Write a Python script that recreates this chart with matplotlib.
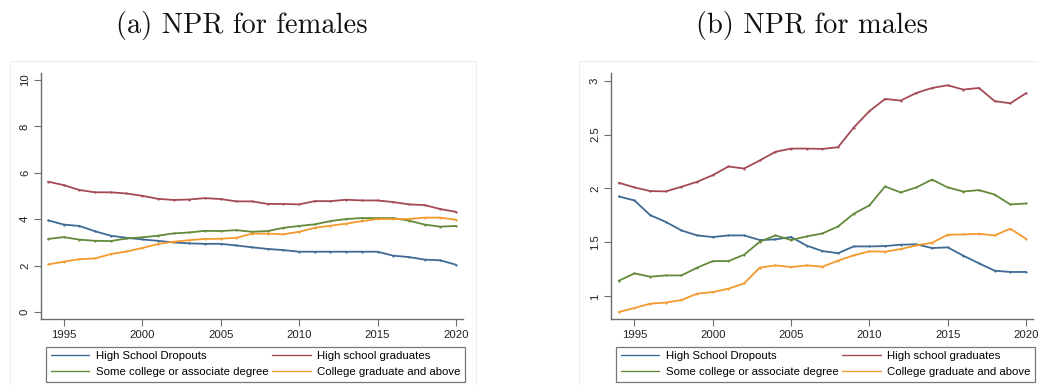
import matplotlib
matplotlib.use("Agg")
import matplotlib.pyplot as plt
from matplotlib.patches import Rectangle

years = list(range(1994, 2021))

# Females
f_dropouts = [3.95, 3.77, 3.71, 3.48, 3.29, 3.20, 3.13, 3.07, 3.00, 2.96, 2.94, 2.94, 2.87, 2.79,
              2.72, 2.67, 2.60, 2.60, 2.60, 2.60, 2.60, 2.60, 2.43, 2.37, 2.26, 2.23, 2.04]
f_hsgrad = [5.62, 5.47, 5.26, 5.16, 5.16, 5.11, 5.01, 4.88, 4.83, 4.85, 4.91, 4.87, 4.77, 4.77,
            4.66, 4.66, 4.64, 4.78, 4.78, 4.84, 4.81, 4.81, 4.74, 4.64, 4.61, 4.44, 4.32]
f_somecol = [3.15, 3.23, 3.12, 3.07, 3.06, 3.17, 3.22, 3.29, 3.39, 3.43, 3.50, 3.49, 3.53, 3.46,
             3.49, 3.63, 3.71, 3.78, 3.92, 4.01, 4.05, 4.05, 4.05, 3.94, 3.77, 3.68, 3.71]
f_college = [2.05, 2.17, 2.28, 2.31, 2.50, 2.61, 2.76, 2.93, 3.03, 3.10, 3.15, 3.16, 3.20, 3.38,
             3.38, 3.35, 3.46, 3.63, 3.72, 3.81, 3.92, 4.01, 4.01, 4.01, 4.07, 4.07, 3.98]

# Males
m_dropouts = [1.926, 1.889, 1.753, 1.690, 1.611, 1.565, 1.550, 1.565, 1.565, 1.522, 1.528, 1.550,
              1.470, 1.420, 1.400, 1.463, 1.463, 1.466, 1.479, 1.482, 1.448, 1.454, 1.377, 1.306,
              1.238, 1.226, 1.226]
m_hsgrad = [2.053, 2.010, 1.976, 1.973, 2.016, 2.062, 2.124, 2.204, 2.185, 2.260, 2.340, 2.370,
            2.370, 2.367, 2.383, 2.565, 2.717, 2.830, 2.815, 2.886, 2.932, 2.957, 2.917, 2.932,
            2.810, 2.790, 2.883]
m_somecol = [1.145, 1.213, 1.182, 1.194, 1.194, 1.266, 1.327, 1.327, 1.386, 1.506, 1.565, 1.522,
             1.556, 1.583, 1.648, 1.766, 1.843, 2.019, 1.963, 2.010, 2.083, 2.010, 1.972, 1.985,
             1.944, 1.852, 1.861]
m_college = [0.855, 0.892, 0.932, 0.942, 0.966, 1.025, 1.040, 1.071, 1.120, 1.266, 1.287, 1.272,
             1.287, 1.275, 1.331, 1.380, 1.417, 1.414, 1.439, 1.472, 1.497, 1.571, 1.574, 1.580,
             1.565, 1.627, 1.534]

series_labels = ["High School Dropouts", "High school graduates",
                 "Some college or associate degree", "College graduate and above"]
series_colors = ["#3f6a94", "#a34a55", "#638a3a", "#f29a2e"]

x_ticks = [1995, 2000, 2005, 2010, 2015, 2020]
f_yticks = [0, 2, 4, 6, 8, 10]
m_yticks = [1, 1.5, 2, 2.5, 3]
m_ytick_labels = ["1", "1.5", "2", "2.5", "3"]

titles = ["(a) NPR for females", "(b) NPR for males"]

fig = plt.figure(figsize=(10.38, 3.85), dpi=100)
W, H = 1038, 385

def fx(px):
    return px / W

def fy(py):
    return 1 - py / H

# faint graph-region frames
for x0, x1 in [(10, 476), (579, 1040)]:
    fig.patches.append(Rectangle((fx(x0), fy(390)), fx(x1) - fx(x0), fy(61) - fy(390),
                                 transform=fig.transFigure, fill=False,
                                 edgecolor="#eeeeee", linewidth=0.8, zorder=0))

ax1 = fig.add_axes([fx(41), fy(319), fx(463) - fx(41), fy(73.3) - fy(319)])
ax2 = fig.add_axes([fx(611), fy(319), fx(1033) - fx(611), fy(73.3) - fy(319)])

panels = [
    (ax1, [f_dropouts, f_hsgrad, f_somecol, f_college], (-0.30, 10.29), f_yticks,
     [str(t) for t in f_yticks], (1993.55, 2020.45)),
    (ax2, [m_dropouts, m_hsgrad, m_somecol, m_college], (0.79, 3.068), m_yticks,
     m_ytick_labels, (1993.5, 2020.45)),
]

for ax, data, ylim, yt, ytl, xlim in panels:
    for vals, lab, col in zip(data, series_labels, series_colors):
        ax.plot(years, vals, color=col, lw=1.3, label=lab, marker="o",
                markersize=1.6, markeredgewidth=0, solid_capstyle="round")
    ax.set_xlim(*xlim)
    ax.set_ylim(*ylim)
    ax.set_xticks(x_ticks)
    ax.set_yticks(yt)
    ax.set_yticklabels(ytl, rotation=90, va="center")
    for s in ["top", "right"]:
        ax.spines[s].set_visible(False)
    for s in ["left", "bottom"]:
        ax.spines[s].set_color("#6e6e6e")
        ax.spines[s].set_linewidth(1.0)
    ax.tick_params(axis="both", length=5, width=0.8, color="#6e6e6e",
                   labelsize=8.2, labelcolor="#222222", pad=3)
    for lbl in ax.get_xticklabels() + ax.get_yticklabels():
        lbl.set_fontfamily("Liberation Sans")

# legends below each panel, filled row by row
order = [0, 2, 1, 3]
for ax, left_px in [(ax1, 46), (ax2, 616)]:
    handles, labels = ax.get_legend_handles_labels()
    leg = fig.legend([handles[i] for i in order], [labels[i] for i in order],
                     ncol=2, loc="upper left",
                     bbox_to_anchor=(fx(left_px), fy(346.5)),
                     frameon=True, fancybox=False, edgecolor="#555555",
                     prop={"family": "Liberation Sans", "size": 8.2},
                     handlelength=3.4, handletextpad=0.55, columnspacing=0.35,
                     labelspacing=0.55, borderpad=0.4, borderaxespad=0)
    leg.get_frame().set_linewidth(0.9)
    for h in leg.get_lines():
        h.set_marker("")
        h.set_linewidth(1.0)

# subfigure captions
fig.text(fx(242), fy(25), titles[0], family="cmr10", fontsize=20.5,
         ha="center", va="center", color="#111111")
fig.text(fx(812), fy(25), titles[1], family="cmr10", fontsize=20.5,
         ha="center", va="center", color="#111111")

fig.savefig("out.png", dpi=100)
